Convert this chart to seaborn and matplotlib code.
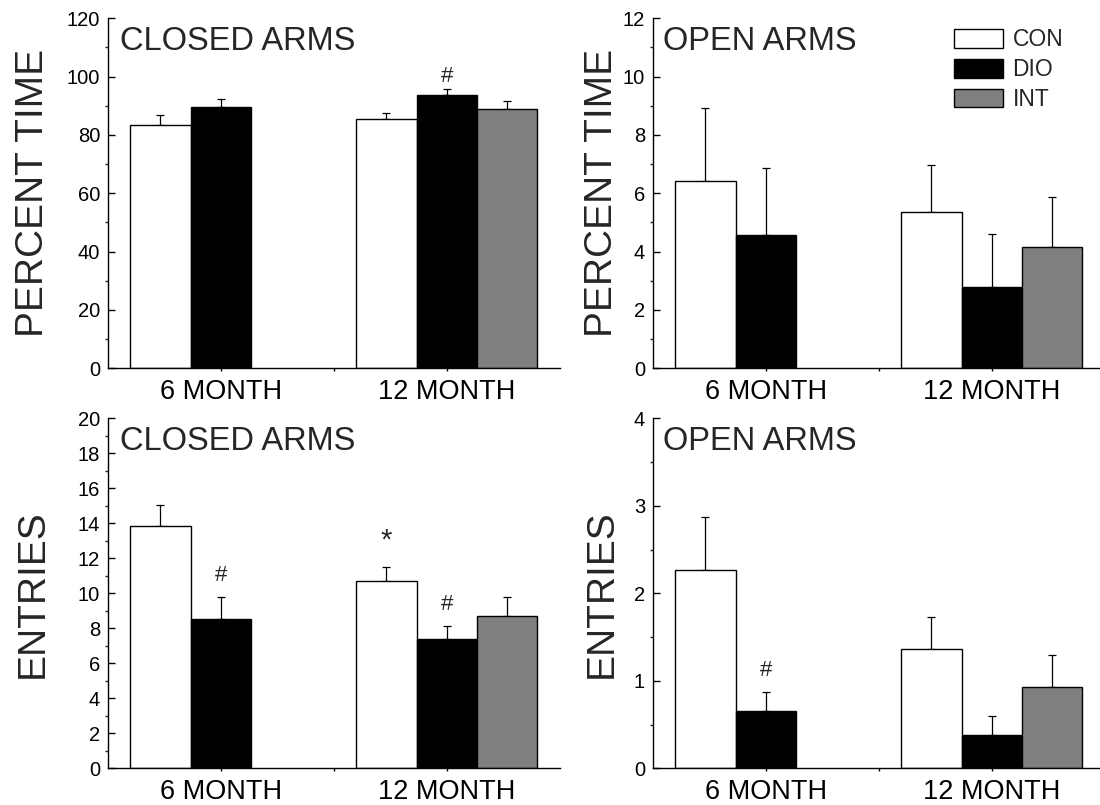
import numpy as np
import pandas as pd
import matplotlib
matplotlib.use("Agg")
import matplotlib.pyplot as plt
from matplotlib.patches import Patch
from matplotlib.ticker import MultipleLocator
import seaborn as sns

# ---------------- data ----------------
months = ["6 MONTH", "12 MONTH"]
groups = ["CON", "DIO", "INT"]

# each series: values for (6 MONTH, 12 MONTH); None = not measured
time_closed_mean = {"CON": [83.5, 85.5], "DIO": [89.5, 93.6], "INT": [None, 88.8]}
time_closed_err = {"CON": [3.3, 2.2], "DIO": [2.8, 2.2], "INT": [None, 2.8]}

time_open_mean = {"CON": [6.41, 5.37], "DIO": [4.56, 2.79], "INT": [None, 4.16]}
time_open_err = {"CON": [2.50, 1.59], "DIO": [2.32, 1.83], "INT": [None, 1.73]}

entries_closed_mean = {"CON": [13.83, 10.69], "DIO": [8.51, 7.39], "INT": [None, 8.70]}
entries_closed_err = {"CON": [1.19, 0.82], "DIO": [1.27, 0.74], "INT": [None, 1.10]}

entries_open_mean = {"CON": [2.27, 1.36], "DIO": [0.65, 0.38], "INT": [None, 0.93]}
entries_open_err = {"CON": [0.60, 0.37], "DIO": [0.22, 0.22], "INT": [None, 0.36]}

panel_titles = ["CLOSED ARMS", "OPEN ARMS", "CLOSED ARMS", "OPEN ARMS"]
y_labels = ["PERCENT TIME", "PERCENT TIME", "ENTRIES", "ENTRIES"]
y_limits = [(0, 120), (0, 12), (0, 20), (0, 4)]
y_major = [20, 2, 2, 1]
y_minor = [10, 1, 1, 0.5]

# significance markers: (panel, month, group, symbol)
markers = [
    (0, "12 MONTH", "DIO", "#"),
    (2, "6 MONTH", "DIO", "#"),
    (2, "12 MONTH", "CON", "*"),
    (2, "12 MONTH", "DIO", "#"),
    (3, "6 MONTH", "DIO", "#"),
]

colors = {"CON": "#ffffff", "DIO": "#000000", "INT": "#808080"}

# ---------------- style ----------------
sns.set_theme(style="ticks")
plt.rcParams["font.family"] = ["Liberation Sans", "DejaVu Sans"]
plt.rcParams["axes.linewidth"] = 1.0

fig = plt.figure(figsize=(11, 8.05), dpi=100)
W, H = 1100, 805
ax_w, ax_h = 452 / W, 350 / H
lefts = [107.7 / W, 652.7 / W, 107.7 / W, 652.7 / W]
bottoms = [(H - 368.3) / H, (H - 368.3) / H, (H - 768.3) / H, (H - 768.3) / H]
label_x = [-0.126, -0.072, -0.126, -0.072]

means = [time_closed_mean, time_open_mean, entries_closed_mean, entries_open_mean]
errs = [time_closed_err, time_open_err, entries_closed_err, entries_open_err]

axes = []
for i in range(4):
    ax = fig.add_axes([lefts[i], bottoms[i], ax_w, ax_h])
    axes.append(ax)
    rows = []
    for g in groups:
        for m, v in zip(months, means[i][g]):
            if v is not None:
                rows.append({"month": m, "group": g, "value": v})
    df = pd.DataFrame(rows)
    sns.barplot(data=df, x="month", y="value", hue="group", order=months,
                hue_order=groups, palette=colors, edgecolor="black",
                linewidth=1.0, width=0.8, errorbar=None, legend=False,
                saturation=1, ax=ax, zorder=2)

    # error bars (upper only) placed on the seaborn bars
    tops = {}
    for g, cont in zip(groups, ax.containers):
        for bar in cont:
            h = bar.get_height()
            if np.isnan(h):
                continue
            xc = bar.get_x() + bar.get_width() / 2
            mi = int(round(xc))
            e = errs[i][g][mi]
            ax.errorbar(xc, h, yerr=[[0], [e]], fmt="none", ecolor="black",
                        elinewidth=0.9, capsize=3, capthick=0.9, zorder=1)
            tops[(months[mi], g)] = (xc, h + e)

    for (p, m, g, sym) in markers:
        if p != i:
            continue
        xc, yt = tops[(m, g)]
        if sym == "*":
            ax.annotate(sym, (xc, yt), xytext=(0, 19), textcoords="offset points",
                        ha="center", va="center", fontsize=21)
        else:
            off = 9 if i == 0 else 15.5
            ax.annotate(sym, (xc, yt), xytext=(0, off), textcoords="offset points",
                        ha="center", va="center", fontsize=16)

    ax.set_xlim(-0.5, 1.5)
    ax.set_ylim(*y_limits[i])
    ax.yaxis.set_major_locator(MultipleLocator(y_major[i]))
    ax.yaxis.set_minor_locator(MultipleLocator(y_minor[i]))
    ax.set_xticks([0, 1])
    ax.set_xticks([0.5], minor=True)
    ax.set_xticklabels(months)
    ax.tick_params(axis="y", which="major", direction="in", length=5, width=1,
                   labelsize=14.5, pad=5.5, colors="black")
    ax.tick_params(axis="y", which="minor", direction="out", length=2.5, width=1)
    ax.tick_params(axis="x", which="both", direction="out", length=2.5, width=1,
                   labelsize=19.5, pad=5, colors="black")
    ax.set_xlabel("")
    ax.set_ylabel(y_labels[i], fontsize=28)
    ax.yaxis.set_label_coords(label_x[i], 0.5)
    ax.text(0.027 if i % 2 == 0 else 0.022, 0.91, panel_titles[i],
            transform=ax.transAxes, fontsize=23.5, va="baseline", ha="left")
    for s in ["top", "right"]:
        ax.spines[s].set_visible(False)
    for s in ["left", "bottom"]:
        ax.spines[s].set_color("black")
    ax.set_facecolor("white")

handles = [Patch(facecolor=colors[g], edgecolor="black", linewidth=1.0) for g in groups]
axes[1].legend(handles, groups, loc="upper left",
               bbox_to_anchor=(954 / W, 1 - 28.5 / H), bbox_transform=fig.transFigure,
               frameon=False, fontsize=16.5, handlelength=2.15, handleheight=0.85,
               handletextpad=0.4, labelspacing=0.3, borderpad=0, borderaxespad=0)

fig.savefig("out.png", dpi=100, facecolor="white")
